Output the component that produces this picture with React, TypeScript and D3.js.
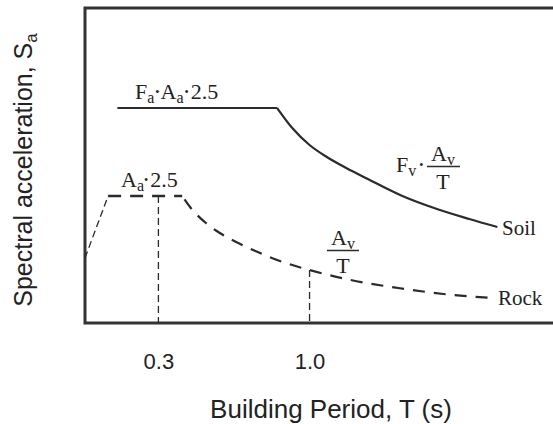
import React, { useEffect, useMemo, useRef } from "react";
import * as d3 from "d3";

// x-axis tick values (building period, s)
const periodTicks = [0.3, 1.0];

// Soil spectrum (solid): plateau, then Fv·Av/T decay
const soilPlateauT = [0.11, 0.85];
const soilPlateauSa = [2.15, 2.15];
const soilDecayT = [0.85, 0.92, 1.0, 1.08, 1.17, 1.27, 1.43, 1.59, 1.74, 1.87];
const soilDecaySa = [2.15, 1.95, 1.78, 1.66, 1.55, 1.44, 1.27, 1.14, 1.04, 0.96];

// Rock spectrum (dashed): ramp, plateau, then Av/T decay
const rockRampT = [-0.04, 0.067];
const rockRampSa = [0.65, 1.27];
const rockPlateauT = [0.067, 0.41];
const rockPlateauSa = [1.27, 1.27];
const rockDecayT = [0.41, 0.45, 0.52, 0.57, 0.66, 0.76, 0.85, 0.95, 1.0, 1.19, 1.41, 1.62, 1.85];
const rockDecaySa = [1.27, 1.15, 1.0, 0.92, 0.81, 0.71, 0.63, 0.56, 0.53, 0.43, 0.35, 0.29, 0.25];

// vertical guides down from the rock curve
const guideT = [0.3, 1.0];
const guideSa = [1.27, 0.53];

const W = 553;
const H = 424;
const INK = "#2b2b2b";
const SANS = "'Liberation Sans', Arial, Helvetica, sans-serif";
const SERIF = "'Liberation Serif', 'Times New Roman', serif";

const zip = (xs: number[], ys: number[]) => xs.map((x, i) => [x, ys[i]] as [number, number]);

const App: React.FC = () => {
  const axisRef = useRef<SVGGElement | null>(null);

  const x = useMemo(() => d3.scaleLinear().domain([-0.04, 2.16]).range([85, 560]), []);
  const y = useMemo(() => d3.scaleLinear().domain([0, 3.15]).range([323, 8]), []);

  const straight = d3
    .line<[number, number]>()
    .x((d) => x(d[0]))
    .y((d) => y(d[1]));
  const smooth = d3
    .line<[number, number]>()
    .x((d) => x(d[0]))
    .y((d) => y(d[1]))
    .curve(d3.curveMonotoneX);

  useEffect(() => {
    if (!axisRef.current) return;
    const g = d3.select(axisRef.current);
    g.selectAll("*").remove();
    g.call(
      d3
        .axisBottom(x)
        .tickValues(periodTicks)
        .tickSize(0)
        .tickPadding(30)
        .tickFormat(d3.format(".1f"))
    );
    g.select(".domain").remove();
    g.selectAll("text")
      .attr("font-family", SANS)
      .attr("font-size", 22)
      .attr("fill", "#222");
  }, [x]);

  const [x0, x1] = x.range();
  const [yb, yt] = y.range();

  return (
    <svg
      width={W}
      height={H}
      style={{ position: "absolute", left: 0, top: 0, background: "#fff" }}
    >
      {/* frame */}
      <rect x={x0} y={yt} width={x1 - x0 + 20} height={yb - yt} fill="none" stroke="#333" strokeWidth={3} />

      {/* guides */}
      {guideT.map((t, i) => (
        <line
          key={t}
          x1={x(t)}
          x2={x(t)}
          y1={y(guideSa[i])}
          y2={y(0)}
          stroke={INK}
          strokeWidth={1.3}
          strokeDasharray="7,4"
        />
      ))}

      {/* soil */}
      <path d={straight(zip(soilPlateauT, soilPlateauSa)) || ""} fill="none" stroke={INK} strokeWidth={2.2} />
      <path d={smooth(zip(soilDecayT, soilDecaySa)) || ""} fill="none" stroke={INK} strokeWidth={2.2} />

      {/* rock */}
      <path
        d={straight(zip(rockRampT, rockRampSa)) || ""}
        fill="none"
        stroke={INK}
        strokeWidth={1.3}
        strokeDasharray="7,4"
      />
      <path
        d={straight(zip(rockPlateauT, rockPlateauSa)) || ""}
        fill="none"
        stroke={INK}
        strokeWidth={2.4}
        strokeDasharray="13,9"
      />
      <path
        d={smooth(zip(rockDecayT, rockDecaySa)) || ""}
        fill="none"
        stroke={INK}
        strokeWidth={2.2}
        strokeDasharray="12,9"
        strokeDashoffset={-4}
      />

      {/* annotations */}
      <g fontFamily={SERIF} fill="#222">
        <text x={135} y={99} fontSize={22}>
          <tspan>F</tspan>
          <tspan dy={4} fontSize={16}>a</tspan>
          <tspan dy={-7} dx={1} fontSize={12}>•</tspan>
          <tspan dy={3} dx={1}>A</tspan>
          <tspan dy={4} fontSize={16}>a</tspan>
          <tspan dy={-7} dx={1} fontSize={12}>•</tspan>
          <tspan dy={3} dx={2}>2.5</tspan>
        </text>
        <text x={121} y={187} fontSize={22}>
          <tspan>A</tspan>
          <tspan dy={4} fontSize={16}>a</tspan>
          <tspan dy={-7} fontSize={12}>•</tspan>
          <tspan dy={3} dx={2}>2.5</tspan>
        </text>

        <text x={396} y={172} fontSize={22}>
          <tspan>F</tspan>
          <tspan dy={4} fontSize={16}>v</tspan>
          <tspan dy={-7} dx={3} fontSize={12}>•</tspan>
        </text>
        <text x={443} y={161} fontSize={22} textAnchor="middle">
          <tspan>A</tspan>
          <tspan dy={4} fontSize={16}>v</tspan>
        </text>
        <line x1={427} x2={460} y1={166.5} y2={166.5} stroke={INK} strokeWidth={1.5} />
        <text x={443} y={189} fontSize={22} textAnchor="middle">T</text>

        <text x={343} y={245} fontSize={22} textAnchor="middle">
          <tspan>A</tspan>
          <tspan dy={4} fontSize={16}>v</tspan>
        </text>
        <line x1={327} x2={359} y1={250.5} y2={250.5} stroke={INK} strokeWidth={1.5} />
        <text x={343} y={273} fontSize={22} textAnchor="middle">T</text>

        <text x={502} y={235} fontSize={21}>Soil</text>
        <text x={498} y={305} fontSize={21}>Rock</text>
      </g>

      {/* x axis labels */}
      <g ref={axisRef} transform={`translate(0,${yb})`} />

      <text x={331} y={418} textAnchor="middle" fontFamily={SANS} fontSize={26} fill="#222">
        Building Period, T (s)
      </text>
      <text
        transform="translate(32,170) rotate(-90)"
        textAnchor="middle"
        fontFamily={SANS}
        fontSize={25}
        fill="#222"
      >
        <tspan>Spectral acceleration, S</tspan>
        <tspan dy={5} fontSize={17}>a</tspan>
      </text>
    </svg>
  );
};

export default App;
